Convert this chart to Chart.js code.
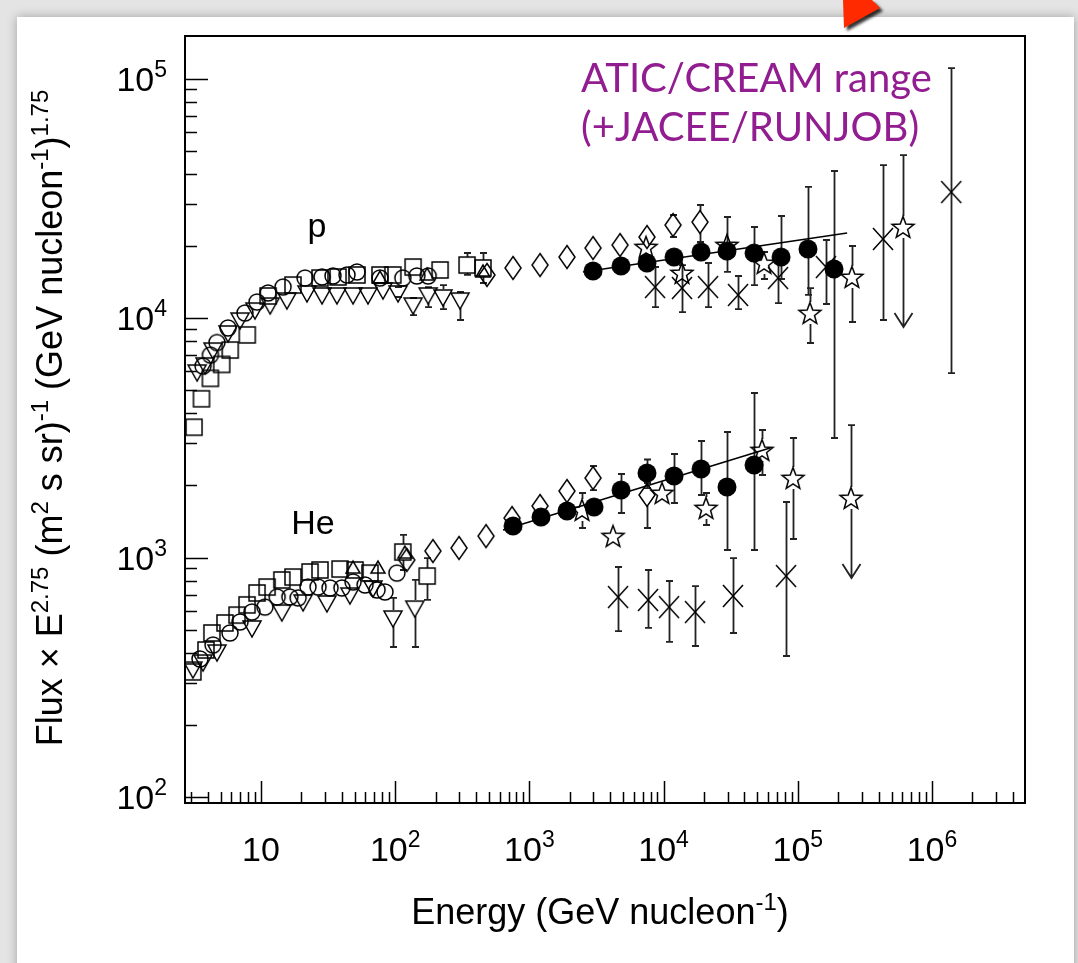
<!DOCTYPE html>
<html>
<head>
<meta charset="utf-8">
<script src="https://cdn.jsdelivr.net/npm/chart.js@4.4.0/dist/chart.umd.min.js"></script>
<style>
  html, body { margin: 0; padding: 0; background: #fff; }
  #wrap { width: 1078px; height: 963px; }
</style>
</head>
<body>
<div id="wrap"><canvas id="chartFlux" width="1078" height="963"></canvas></div>
<script>
// rows: [energy (GeV/n), flux x E^2.75, errLow, errHigh]

// protons
var pSquares = [[3.17,3500],[3.6,4600],[4.2,5600],[5.1,6400],[5.9,7350],[7.9,8500],[11.3,12360],[17.3,13730],[27.5,14690],[37.5,14840],[51.9,15130],[77,15130],[96,15130],[136,16330],[216,15870],[343,16640,15130,18680],[451,16180,14000,18680]];
var pCircles = [[3.7,6300],[4.2,7000],[4.7,7900],[5.68,9085],[7.6,10490],[9.34,11660],[11.3,12720],[14.6,13470],[21.3,14690],[28.5,14840],[34.4,14980],[43.7,15130],[51.9,15570],[77,14690],[114,14690],[145,14980],[176,14980]];
var pTriDown = [[3.34,5950],[3.83,6370],[4.39,7350],[5.68,8660],[6.98,9810],[9.02,10800],[11.7,11330],[15.6,11890],[22,12720],[28.5,12480],[36.8,12480],[48.5,12480],[62.7,12480],[81.1,13090],[105,12720,12240,13470],[136,11330,10290,12120],[176,12480,11110,13470],[227,12240,10900,13730],[304,11890,9810,12840]];
var pTriUp = [[77,14690],[173,15130],[451,15570]];
var pDiamonds = [[483,15130],[755,16180],[1200,16640],[1906,17970],[2978,19600],[4733,20170],[7520,21790],[11750,24450,21790,26920],[18670,25170,20770,29640]];
var pFilled = [[2978,15720],[4815,16490],[7520,16970],[11960,17970],[19000,18860],[29670,19040,15570,26410],[47170,18680,13730,23990],[74950,17970,14550,26660],[119000,19410,12480,35250],[186000,16020,3155,41100]];
var pFit = [[2506,15560],[233000,22650]];
var pStars = [[7393,19790],[13710,15420],[29670,20170],[55990,16970,14550,18860],[123000,10490,7863,13340],[253000,14840,9624,19980]];
var pStarLimit = [[608000,23990,9171,47910]];
var pCrosses = [[8629,13470,11110,16330],[13710,13340,10590,16640],[21420,13470,11110,16970],[35840,12480,10900,14980],[71210,14690,11550,16970],[162000,16330,11440,21170],[431000,21380,9810,43530],[1390000,33580,5890,110600]];

// helium
var heSquares = [[3.11,333],[3.89,411],[4.31,484],[5.39,533],[6.63,575],[7.87,634],[9.34,711],[11.1,753],[14.3,806],[17.3,829],[23.2,870],[27.5,887],[38.8,895],[50.2,887],[64.9,861],[114,1054,887,1242],[173,837,665,995]];
var heCircles = [[3.51,377],[4.39,431],[5.87,484],[6.98,538],[8.57,592],[10.7,621],[13.2,684],[16.4,684],[18.9,678],[22.4,753],[26.6,753],[32.7,746],[40.1,746],[48.5,790],[59.6,768],[73.2,732],[83.9,718],[103,861]];
var heTriDown = [[3.11,342],[3.7,366],[4.7,403],[8.57,508],[14.3,592],[20.6,652],[31,646],[46,697],[68.3,746],[96.3,559,423,678],[140,615,423,806]];
var heTriUp = [[48.5,904],[74.4,904],[118,1044]];
var heDiamonds = [[122,976],[191,1064],[299,1096],[475,1229],[742,1462],[1200,1641],[1906,1895],[2978,2147,1913,2411],[7520,1824,1328,2047]];
var heFilled = [[755,1354],[1220,1476],[1906,1564],[3030,1625],[4815,1913,1534,2232],[7520,2253,1950,2566],[11960,2190,1689,2705],[19000,2342,1824,3065],[29670,1970,1075,3342],[47170,2434,1075,4862]];
var heFit = [[636,1303],[62100,2864]];
var heStars = [[2466,1579,1328,1859],[4198,1229],[9730,1859],[20700,1609,1367,1859],[54100,2811,2211,3407],[92100,2147,1195,3155]];
var heStarLimit = [[249000,1772,821,3574]];
var heCrosses = [[4574,684,493,913],[7654,665,508,887],[10970,621,444,798],[17140,592,427,760],[32890,691,484,995],[81690,837,388,1705]];

// axes
var xRange = [2.715, 4.93e6];
var yRange = [94.4, 150500];
var xMajorTicks = [10, 1e2, 1e3, 1e4, 1e5, 1e6];
var xTickLabels = [['10',''],['10','2'],['10','3'],['10','4'],['10','5'],['10','6']];
var yMajorTicks = [1e2, 1e3, 1e4, 1e5];
var yTickLabels = [['10','2'],['10','3'],['10','4'],['10','5']];

var FONT = "'Liberation Sans', Arial, Helvetica, sans-serif";

// ---- marker images ----
function marker(w, h, draw) {
  var c = document.createElement('canvas');
  c.width = w; c.height = h;
  var g = c.getContext('2d');
  g.strokeStyle = '#000'; g.fillStyle = '#000'; g.lineWidth = 1.5;
  draw(g, w / 2, h / 2);
  return c;
}
var mCircle = marker(22, 22, function (g, cx, cy) { g.beginPath(); g.arc(cx, cy, 8, 0, Math.PI * 2); g.stroke(); });
var mSquare = marker(22, 22, function (g, cx, cy) { g.strokeRect(cx - 8, cy - 8, 16, 16); });
var mTriDown = marker(24, 24, function (g, cx, cy) {
  g.beginPath(); g.moveTo(cx - 9, cy - 7); g.lineTo(cx + 9, cy - 7); g.lineTo(cx, cy + 9); g.closePath(); g.stroke();
});
var mTriUp = marker(20, 20, function (g, cx, cy) {
  g.beginPath(); g.moveTo(cx - 7, cy + 5); g.lineTo(cx + 7, cy + 5); g.lineTo(cx, cy - 7); g.closePath(); g.stroke();
});
var mDiamond = marker(22, 28, function (g, cx, cy) {
  g.beginPath(); g.moveTo(cx, cy - 11.5); g.lineTo(cx + 8, cy); g.lineTo(cx, cy + 11.5); g.lineTo(cx - 8, cy); g.closePath(); g.stroke();
});
var mFilled = marker(24, 24, function (g, cx, cy) { g.beginPath(); g.arc(cx, cy, 9.5, 0, Math.PI * 2); g.fill(); });
var mStar = marker(28, 28, function (g, cx, cy) {
  g.beginPath();
  for (var i = 0; i < 10; i++) {
    var r = i % 2 ? 4.8 : 11.5;
    var a = -Math.PI / 2 + i * Math.PI / 5;
    var px = cx + r * Math.cos(a), py = cy + 1 + r * Math.sin(a);
    if (i) g.lineTo(px, py); else g.moveTo(px, py);
  }
  g.closePath(); g.stroke();
});
var mCross = marker(26, 28, function (g, cx, cy) {
  g.beginPath();
  g.moveTo(cx - 10, cy - 11); g.lineTo(cx + 10, cy + 11);
  g.moveTo(cx + 10, cy - 11); g.lineTo(cx - 10, cy + 11);
  g.stroke();
});

function series(rows, style, gap, arrow) {
  return {
    data: rows.map(function (r) { return { x: r[0], y: r[1] }; }),
    rows: rows, gap: gap, arrow: !!arrow,
    pointStyle: style, pointRadius: 8, showLine: false
  };
}
function fitLine(rows) {
  return {
    data: rows.map(function (r) { return { x: r[0], y: r[1] }; }),
    showLine: true, borderColor: '#000', borderWidth: 1.6, pointRadius: 0, fill: false
  };
}

// ---- text helpers ----
function partsWidth(ctx, parts, base, sup) {
  var w = 0;
  parts.forEach(function (p) { ctx.font = p[1] ? sup : base; w += ctx.measureText(p[0]).width; });
  return w;
}
function drawParts(ctx, parts, x, y, align, base, sup, rise) {
  var w = partsWidth(ctx, parts, base, sup);
  var sx = align === 'center' ? x - w / 2 : (align === 'right' ? x - w : x);
  ctx.textAlign = 'left';
  parts.forEach(function (p) {
    ctx.font = p[1] ? sup : base;
    ctx.fillText(p[0], sx, p[1] ? y - rise : y);
    sx += ctx.measureText(p[0]).width;
  });
}

var decor = {
  id: 'decor',
  beforeDraw: function (chart) {
    var ctx = chart.ctx;
    ctx.save();
    ctx.fillStyle = '#e4e4e4';
    ctx.fillRect(0, 0, chart.width, chart.height);
    ctx.shadowColor = 'rgba(0,0,0,0.3)';
    ctx.shadowBlur = 10;
    ctx.fillStyle = '#fff';
    ctx.fillRect(17, 17, 1057, 960);
    ctx.restore();
    // red pointer at top
    ctx.save();
    ctx.shadowColor = 'rgba(0,0,0,0.8)';
    ctx.shadowBlur = 3; ctx.shadowOffsetX = 3; ctx.shadowOffsetY = 3;
    ctx.fillStyle = '#ff2a00';
    ctx.beginPath();
    ctx.moveTo(843, 0); ctx.lineTo(872, 0); ctx.lineTo(880, 8); ctx.lineTo(844, 28); ctx.closePath();
    ctx.fill();
    ctx.restore();
  },
  beforeDatasetsDraw: function (chart) {
    var ctx = chart.ctx, xs = chart.scales.x, ys = chart.scales.y, a = chart.chartArea;
    ctx.save();
    ctx.beginPath(); ctx.rect(a.left, a.top, a.right - a.left, a.bottom - a.top); ctx.clip();
    ctx.strokeStyle = '#222'; ctx.lineWidth = 1.8;
    chart.data.datasets.forEach(function (ds) {
      if (!ds.rows) return;
      ds.rows.forEach(function (r) {
        if (r.length < 4) return;
        var x = Math.round(xs.getPixelForValue(r[0])) + 0.5;
        var yc = ys.getPixelForValue(r[1]);
        var ylo = ys.getPixelForValue(r[2]);
        var yhi = ys.getPixelForValue(r[3]);
        ctx.beginPath();
        if (yhi < yc - ds.gap) { ctx.moveTo(x, yhi); ctx.lineTo(x, yc - ds.gap); }
        if (ylo > yc + ds.gap) { ctx.moveTo(x, yc + ds.gap); ctx.lineTo(x, ylo); }
        ctx.moveTo(x - 3.5, yhi); ctx.lineTo(x + 3.5, yhi);
        if (ds.arrow) {
          ctx.moveTo(x - 9, ylo - 14); ctx.lineTo(x, ylo); ctx.lineTo(x + 9, ylo - 14);
        } else {
          ctx.moveTo(x - 3.5, ylo); ctx.lineTo(x + 3.5, ylo);
        }
        ctx.stroke();
      });
    });
    ctx.restore();
  },
  afterDraw: function (chart) {
    var ctx = chart.ctx, xs = chart.scales.x, ys = chart.scales.y, a = chart.chartArea;
    ctx.save();
    // frame
    ctx.strokeStyle = '#000'; ctx.lineWidth = 2;
    ctx.strokeRect(a.left, a.top, a.right - a.left, a.bottom - a.top);
    // ticks
    ctx.lineWidth = 1.5;
    ctx.beginPath();
    for (var e = 0; e <= 7; e++) {
      for (var k = 1; k <= 9; k++) {
        var v = k * Math.pow(10, e);
        if (v <= xRange[0] || v >= xRange[1]) continue;
        var px = Math.round(xs.getPixelForValue(v)) + 0.5;
        ctx.moveTo(px, a.bottom); ctx.lineTo(px, a.bottom - (k === 1 ? 22 : 11));
      }
    }
    for (var e2 = 1; e2 <= 5; e2++) {
      for (var k2 = 1; k2 <= 9; k2++) {
        var v2 = k2 * Math.pow(10, e2);
        if (v2 < yRange[0] || v2 >= yRange[1]) continue;
        var py = Math.round(ys.getPixelForValue(v2)) + 0.5;
        ctx.moveTo(a.left, py); ctx.lineTo(a.left + (k2 === 1 ? 23 : 12), py);
      }
    }
    ctx.stroke();

    ctx.fillStyle = '#000';
    ctx.textBaseline = 'alphabetic';
    var base = '34px ' + FONT, sup = '23px ' + FONT;
    xMajorTicks.forEach(function (v, i) {
      var lbl = xTickLabels[i];
      drawParts(ctx, [[lbl[0], false], [lbl[1], true]], xs.getPixelForValue(v), 861, 'center', base, sup, 14);
    });
    yMajorTicks.forEach(function (v, i) {
      var lbl = yTickLabels[i];
      drawParts(ctx, [[lbl[0], false], [lbl[1], true]], 167, ys.getPixelForValue(v) + 12, 'right', base, sup, 14);
    });

    // axis titles
    var tb = '36px ' + FONT, ts = '24px ' + FONT;
    drawParts(ctx, [['Energy (GeV nucleon', false], ['-1', true], [')', false]], 600, 924, 'center', tb, ts, 14);
    ctx.save();
    ctx.translate(62, 418);
    ctx.rotate(-Math.PI / 2);
    drawParts(ctx, [['Flux \u00d7 E', false], ['2.75', true], [' (m', false], ['2', true], [' s sr)', false], ['-1', true],
      [' (GeV nucleon', false], ['-1', true], [')', false], ['1.75', true]], 0, 0, 'center', tb, ts, 14);
    ctx.restore();

    // labels in plot
    ctx.font = '34px ' + FONT;
    ctx.textAlign = 'center';
    ctx.fillText('p', 317, 237);
    ctx.fillText('He', 313, 534);
    ctx.fillStyle = '#921d91';
    ctx.font = "40px Lato, 'Open Sans', sans-serif";
    ctx.textAlign = 'left';
    ctx.fillText('ATIC/CREAM range', 581, 92);
    ctx.fillText('(+JACEE/RUNJOB)', 581, 141);
    ctx.restore();
  }
};

var ctxFlux = document.getElementById('chartFlux').getContext('2d');
var chartFlux = new Chart(ctxFlux, {
  type: 'scatter',
  data: {
    datasets: [
      fitLine(pFit),
      fitLine(heFit),
      series(pFilled, mFilled, 9),
      series(heFilled, mFilled, 9),
      series(pSquares, mSquare, 8),
      series(pCircles, mCircle, 8),
      series(pTriDown, mTriDown, 8),
      series(pTriUp, mTriUp, 6),
      series(pDiamonds, mDiamond, 11),
      series(pStars, mStar, 11),
      series(pStarLimit, mStar, 11, true),
      series(pCrosses, mCross, 0),
      series(heSquares, mSquare, 8),
      series(heCircles, mCircle, 8),
      series(heTriDown, mTriDown, 8),
      series(heTriUp, mTriUp, 6),
      series(heDiamonds, mDiamond, 11),
      series(heStars, mStar, 11),
      series(heStarLimit, mStar, 11, true),
      series(heCrosses, mCross, 0)
    ]
  },
  options: {
    responsive: false,
    animation: false,
    events: [],
    layout: { padding: { left: 185, top: 36, right: 53, bottom: 160 } },
    plugins: { legend: { display: false }, tooltip: { enabled: false } },
    scales: {
      x: { type: 'logarithmic', min: xRange[0], max: xRange[1], display: false },
      y: { type: 'logarithmic', min: yRange[0], max: yRange[1], display: false }
    }
  },
  plugins: [decor]
});
</script>
</body>
</html>
